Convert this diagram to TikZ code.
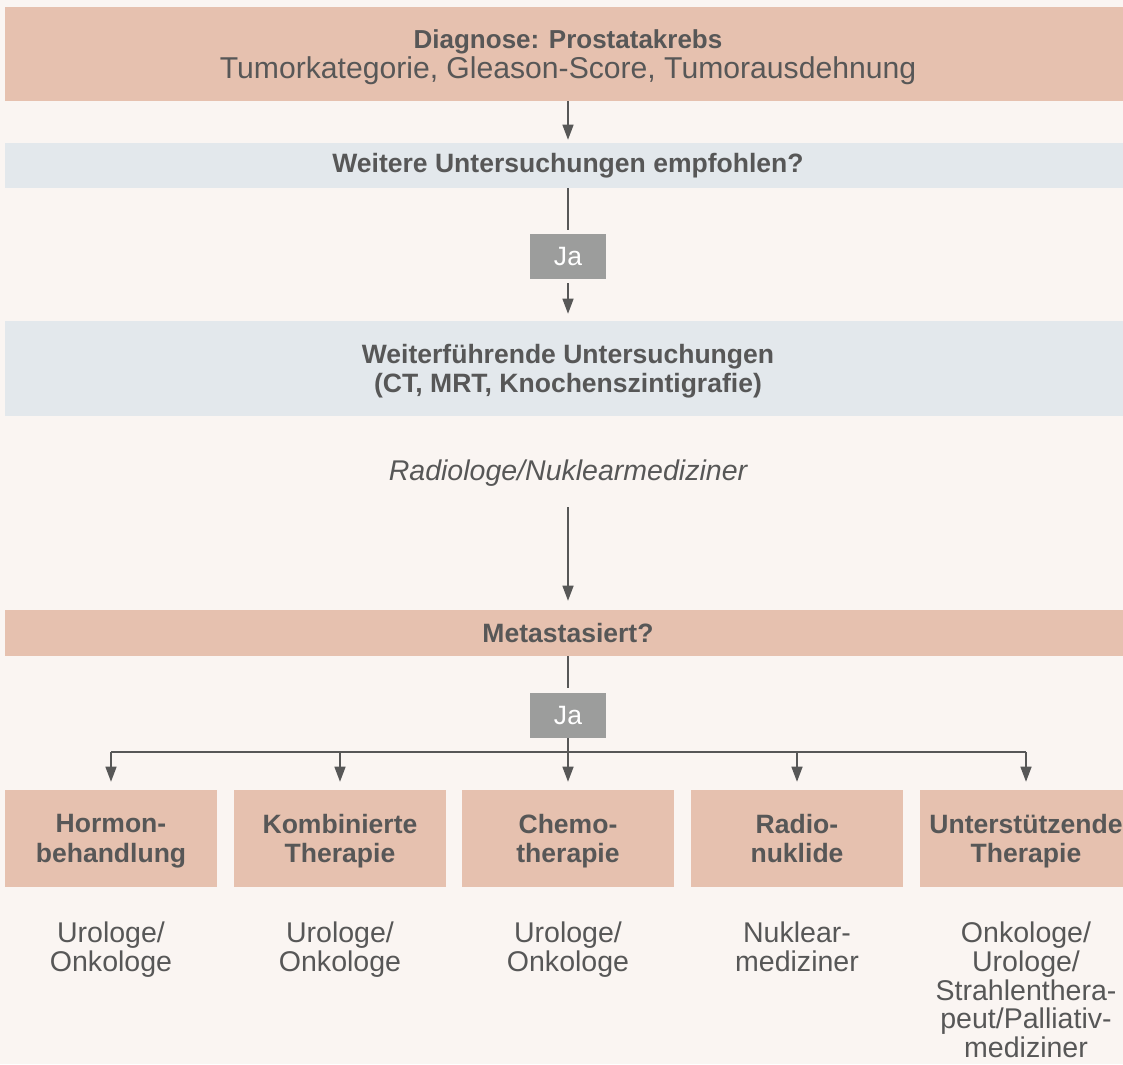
\documentclass[tikz,border=0pt]{standalone}
\usepackage{fontspec}
\setmainfont{Liberation Sans}
\usetikzlibrary{arrows.meta}

\definecolor{paper}{HTML}{FAF5F2}
\definecolor{salmon}{HTML}{E6C1AF}
\definecolor{mist}{HTML}{E3E8EC}
\definecolor{jagrey}{HTML}{9C9D9C}
\definecolor{ink}{HTML}{575757}

\tikzstyle{band}     = [rectangle,inner sep=0pt,minimum width=844.5pt,align=center,text=ink,
                        font=\fontsize{19.9}{22}\selectfont\bfseries]
\tikzstyle{answer}   = [rectangle,fill=jagrey,inner sep=0pt,minimum width=57pt,minimum height=33.75pt,
                        text=white,font=\fontsize{19.9}{22}\selectfont]
\tikzstyle{therapy}  = [rectangle,fill=salmon,inner sep=0pt,minimum width=159pt,minimum height=72.75pt,
                        align=center,text=ink,text depth=0pt,font=\fontsize{19.9}{22}\selectfont\bfseries]
\tikzstyle{doctor}   = [inner sep=0pt,align=center,text=ink,font=\fontsize{21.4}{21.4}\selectfont]
\tikzstyle{link}     = [draw=ink,line width=1pt]
\tikzstyle{flow}     = [link,-{Triangle[length=11.25pt,width=8.25pt]}]

\begin{document}
\begin{tikzpicture}[x=0.75pt,y=-0.75pt]
\useasboundingbox (0,0) rectangle (1123,1064);
\clip (0,0) rectangle (1123,1064);
\fill[paper] (0,0) rectangle (1123,1064);
% Draw the diagnosis and the questions
\node[band,fill=salmon,minimum height=70.5pt,text depth=0pt] (diag) at (568,54)
  {{\fontsize{19.5}{22}\selectfont Diagnose: Prostatakrebs}\\
   {\mdseries\fontsize{22.6}{22}\selectfont Tumorkategorie, Gleason-Score, Tumorausdehnung}};
\node[band,fill=mist,minimum height=33.75pt] (weitere) at (568,165.5) {Weitere Untersuchungen empfohlen?};
\node[answer] (ja1) at (568,256.5) {Ja};
\node[band,fill=mist,minimum height=71.25pt,text depth=0pt] (weiterf) at (568,368.5)
  {Weiterführende Untersuchungen\\(CT, MRT, Knochenszintigrafie)};
\node[doctor,anchor=base,font=\fontsize{21.4}{22}\selectfont\itshape] (radiol) at (568,480)
  {Radiologe/Nuklearmediziner};
\node[band,fill=salmon,minimum height=34.5pt] (meta) at (568,633) {Metastasiert?};
\node[answer] (ja2) at (568,715.5) {Ja};
\coordinate (branch) at (568,752);
% Draw the connectors between the questions
\draw[flow,shorten >=2.25pt] (diag) -- (weitere);
\draw[link,shorten >=3pt] (weitere) -- (ja1);
\draw[flow,shorten <=3pt,shorten >=5.25pt] (ja1) -- (weiterf);
\draw[flow,shorten <=15.75pt,shorten >=6.75pt] (radiol.south) -- (meta.north);
\draw[link,shorten >=3.75pt] (meta) -- (ja2);
\draw[link] (ja2.south) -- (branch);
% Draw the treatment options
\foreach \i/\x/\txt in {1/111/{Hormon-\\behandlung}, 2/340/{Kombinierte\\Therapie},
                        3/568/{Chemo-\\therapie}, 4/797/{Radio-\\nuklide},
                        5/1026/{Unterstützende\\Therapie}}
{
  % draw a therapy box and its arrow
  \node[therapy] (b\i) at (\x,838.5) {\txt};
  \draw[flow,shorten >=6pt] (b\i.north |- branch) -- (b\i.north);
}
\draw[link] (b1.north |- branch) -- (b5.north |- branch);
% Draw the responsible doctors
\node[doctor,anchor=north] (d1) at (111,922) {Urologe/\\Onkologe};
\node[doctor,anchor=north] (d2) at (340,922) {Urologe/\\Onkologe};
\node[doctor,anchor=north] (d3) at (568,922) {Urologe/\\Onkologe};
\node[doctor,anchor=north] (d4) at (797,922) {Nuklear-\\mediziner};
\node[doctor,anchor=north] (d5) at (1026,922)
  {Onkologe/\\Urologe/\\Strahlenthera-\\peut/Palliativ-\\mediziner};
\end{tikzpicture}
\end{document}
